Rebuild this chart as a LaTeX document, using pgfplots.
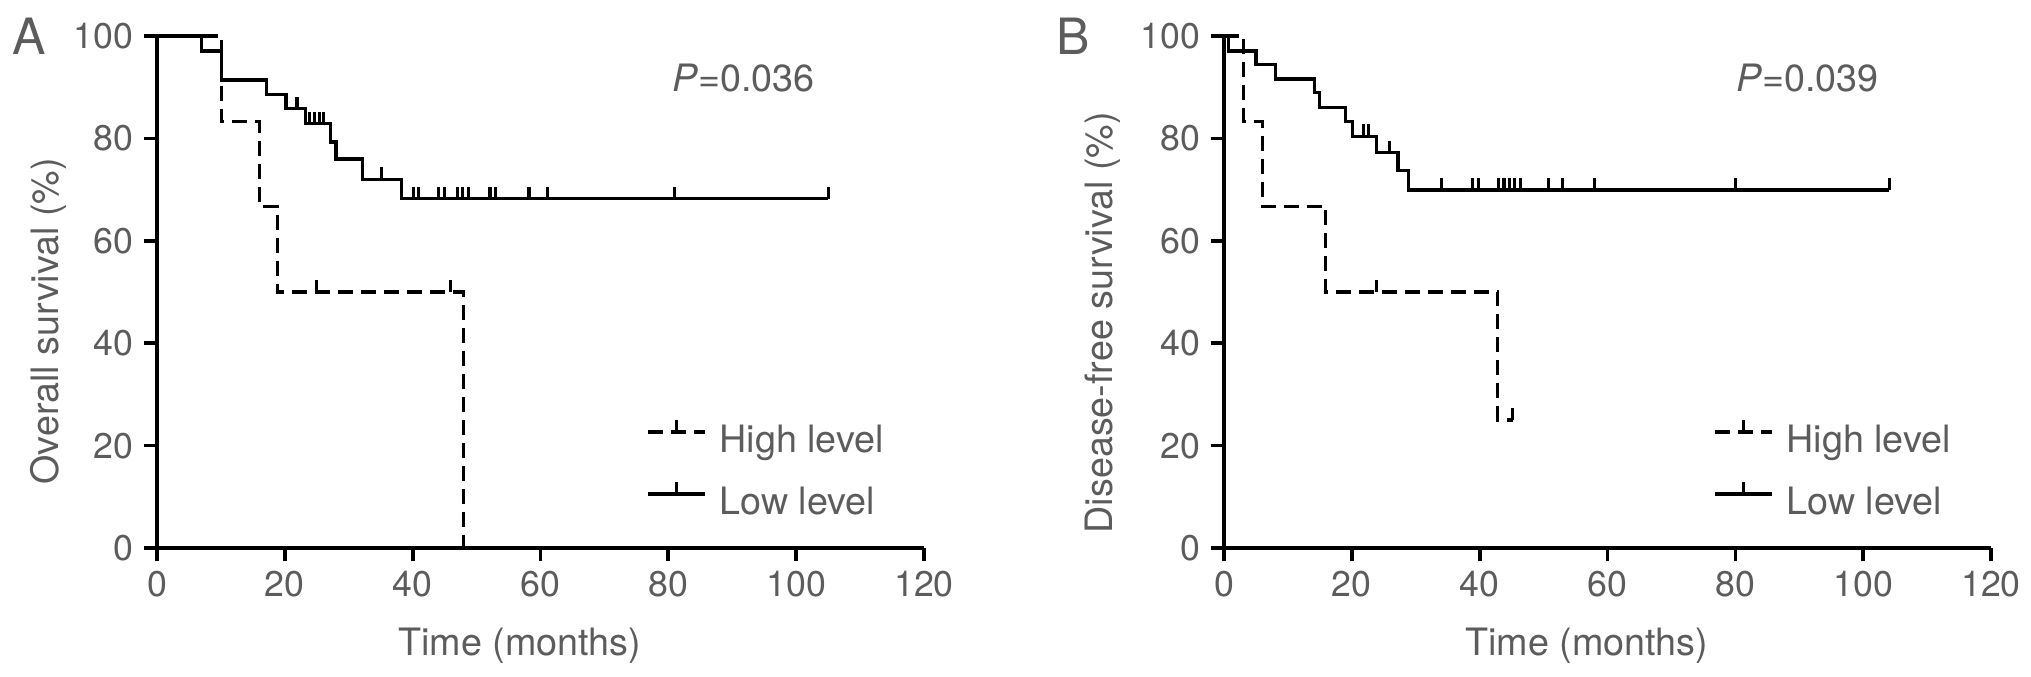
\documentclass[border=0pt]{standalone}
\usepackage{fontspec}
\setmainfont{TeX Gyre Heros}
\usepackage{pgfplots}
\pgfplotsset{compat=1.18}
\pgfdeclareplotmark{cens}{\pgfpathmoveto{\pgfpointorigin}\pgfpathlineto{\pgfpoint{0pt}{4.2pt}}\pgfusepathqstroke}
\definecolor{txt}{gray}{0.36}
\newcommand{\fs}{\fontsize{12.5}{14}\selectfont}
\newcommand{\fl}{\fontsize{13.2}{15}\selectfont}
\pgfplotsset{
 km/.style={
  width=268.45pt, height=179.2pt, scale only axis,
  xmin=0,xmax=120,ymin=0,ymax=100,
  axis lines=left, axis line style={-,line width=1.3pt},
  xtick={0,20,...,120}, ytick={0,20,...,100},
  tick align=outside, major tick length=4.7pt,
  every tick/.append style={black,line width=1.3pt},
  tick label style={font=\fs, text=txt},
  /pgf/number format/assume math mode=true,
  label style={font=\fl, text=txt},
  xlabel={Time (months)},
  xlabel style={at={(rel axis cs:0.473,-0.19)},anchor=center},
  clip=false,
  legend style={draw=none,fill=none,at={(axis cs:76.5,15.2)},anchor=west,inner sep=0pt,
    row sep=7.1pt, column sep=4.5pt, font=\fl, text=txt,
    nodes={inner sep=0pt, text height=9.5pt, text depth=2.5pt}},
  legend cell align=left,
  legend image code/.code={\draw[##1] (0pt,3.8pt) -- (19.9pt,3.8pt); \draw[##1,solid] (9.95pt,3.8pt) -- (9.95pt,8pt);},
 },
 hi/.style={black, line width=1.15pt, dash pattern=on 5.25pt off 2.8pt, const plot},
 lo/.style={black, line width=1.15pt, solid, const plot},
 cm/.style={only marks, mark=cens, mark options={solid,black,line width=1.1pt}, forget plot},
}
\begin{document}
\begin{tikzpicture}
\path[use as bounding box] (-54.95pt,-44.8pt) rectangle (655.9pt,191.8pt);
% Panel A
\begin{axis}[km, at={(0pt,0pt)}, anchor=south west,
  ylabel={Overall survival (\%)},
  ylabel style={at={(rel axis cs:-0.142,0.443)},anchor=center}]
\addplot[hi] coordinates {(0,100) (10.1,83.3) (16.0,66.7) (18.8,50) (47.9,0)};
\addlegendentry{High level}
\addplot[cm] coordinates {(25.0,50) (45.9,50)};
\addplot[lo] coordinates {(0,100) (7.0,97.1) (10.1,91.4) (17.1,88.6) (20.2,85.8) (23.2,82.9) (27.2,79.3) (28.0,76.0) (32.2,72.0) (38.2,68.2) (105,68.2)};
\addlegendentry{Low level}
\addplot[cm] coordinates {(21.9,85.8) (23.8,82.9) (24.6,82.9) (25.4,82.9) (26.1,82.9) (35.1,72.0)
  (40.1,68.2) (40.9,68.2) (44.1,68.2) (45.0,68.2) (47.0,68.2) (47.8,68.2) (48.7,68.2)
  (52.1,68.2) (53.0,68.2) (58.2,68.2) (61.1,68.2) (81.0,68.2) (105,68.2)};
\node[anchor=west, font=\fl, text=txt] at (axis cs:79.1,91.8) {\textit{P}=0.036};
\node[font=\fontsize{17.5}{18}\selectfont, text=txt] at (rel axis cs:-0.167,1.0) {A};
\end{axis}
% Panel B
\begin{axis}[km, at={(373.45pt,0pt)}, anchor=south west,
  ylabel={Disease-free survival (\%)},
  ylabel style={at={(rel axis cs:-0.158,0.44)},anchor=center}]
\addplot[hi] coordinates {(0,100) (3.1,83.3) (6.0,66.7) (15.9,50) (42.8,25) (45.2,25)};
\addlegendentry{High level}
\addplot[cm] coordinates {(23.9,50) (45.2,25)};
\addplot[lo] coordinates {(0,100) (0.7,97.1) (5.0,94.4) (8.1,91.6) (14.2,88.9) (14.9,86.1) (19.0,83.3) (20.1,80.4) (23.9,77.2) (27.2,73.8) (28.9,69.9) (104.1,69.9)};
\addlegendentry{Low level}
\addplot[cm] coordinates {(3.0,97.1) (21.8,80.4) (22.6,80.4) (25.9,77.2) (34.0,69.9)
  (38.9,69.9) (39.8,69.9) (42.9,69.9) (43.8,69.9) (44.6,69.9) (45.5,69.9) (46.4,69.9)
  (50.8,69.9) (52.9,69.9) (57.9,69.9) (80.0,69.9) (104.1,69.9)};
\node[anchor=west, font=\fl, text=txt] at (axis cs:78.6,91.8) {\textit{P}=0.039};
\node[font=\fontsize{17.5}{18}\selectfont, text=txt] at (rel axis cs:-0.197,1.0) {B};
\end{axis}
\end{tikzpicture}
\end{document}
